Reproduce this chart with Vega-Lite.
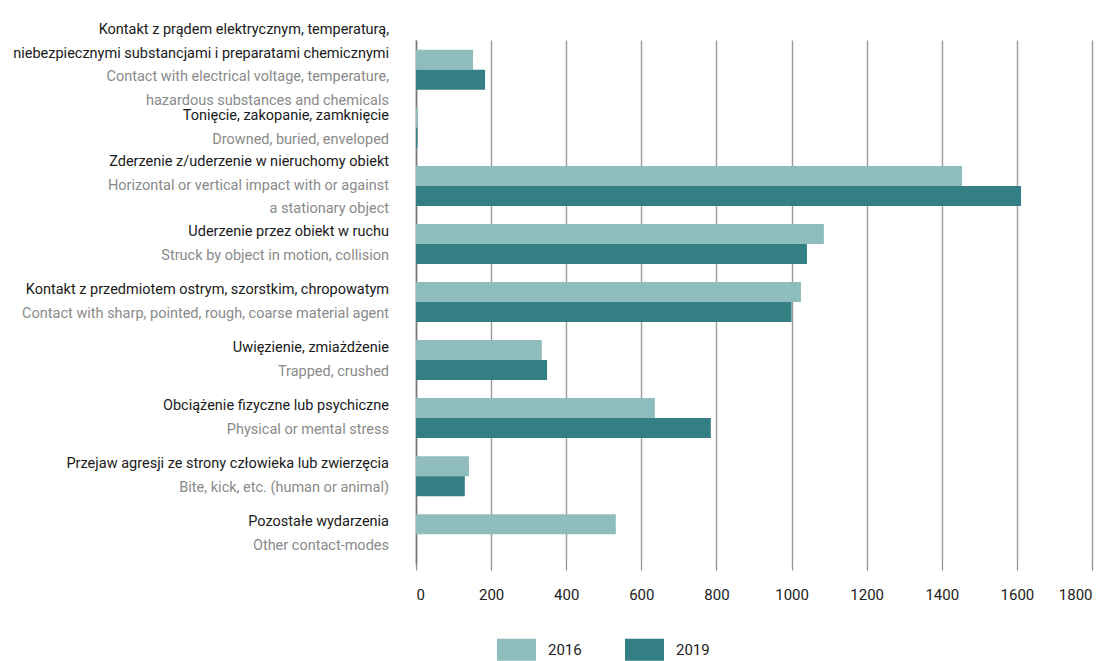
{
  "$schema": "https://vega.github.io/schema/vega-lite/v6.json",
  "width": 676,
  "height": 524,
  "autosize": {"type": "none"},
  "padding": {"left": 416, "top": 40, "right": 20, "bottom": 97},
  "background": "white",
  "config": {"view": {"stroke": null}, "font": "Roboto"},
  "datasets": {
    "bars": [
      {"cat": "c1", "year": "2016", "value": 152},
      {"cat": "c1", "year": "2019", "value": 184},
      {"cat": "c2", "year": "2016", "value": 5},
      {"cat": "c2", "year": "2019", "value": 4},
      {"cat": "c3", "year": "2016", "value": 1454},
      {"cat": "c3", "year": "2019", "value": 1611},
      {"cat": "c4", "year": "2016", "value": 1086},
      {"cat": "c4", "year": "2019", "value": 1041},
      {"cat": "c5", "year": "2016", "value": 1025},
      {"cat": "c5", "year": "2019", "value": 1000},
      {"cat": "c6", "year": "2016", "value": 335},
      {"cat": "c6", "year": "2019", "value": 349},
      {"cat": "c7", "year": "2016", "value": 636},
      {"cat": "c7", "year": "2019", "value": 785},
      {"cat": "c8", "year": "2016", "value": 141},
      {"cat": "c8", "year": "2019", "value": 130},
      {"cat": "c9", "year": "2016", "value": 532}
    ],
    "labels": [
      {"cat": "c1", "pl": ["Kontakt z prądem elektrycznym, temperaturą,", "niebezpiecznymi substancjami i preparatami chemicznymi"], "en": ["Contact with electrical voltage, temperature,", "hazardous substances and chemicals"]},
      {"cat": "c2", "pl": "Tonięcie, zakopanie, zamknięcie", "en": "Drowned, buried, enveloped"},
      {"cat": "c3", "pl": "Zderzenie z/uderzenie w nieruchomy obiekt", "en": ["Horizontal or vertical impact with or against", "a stationary object"]},
      {"cat": "c4", "pl": "Uderzenie przez obiekt w ruchu", "en": "Struck by object in motion, collision"},
      {"cat": "c5", "pl": "Kontakt z przedmiotem ostrym, szorstkim, chropowatym", "en": "Contact with sharp, pointed, rough, coarse material agent"},
      {"cat": "c6", "pl": "Uwięzienie, zmiażdżenie", "en": "Trapped, crushed"},
      {"cat": "c7", "pl": "Obciążenie fizyczne lub psychiczne", "en": "Physical or mental stress"},
      {"cat": "c8", "pl": "Przejaw agresji ze strony człowieka lub zwierzęcia", "en": "Bite, kick, etc. (human or animal)"},
      {"cat": "c9", "pl": "Pozostałe wydarzenia", "en": "Other contact-modes"}
    ]
  },
  "layer": [
    {
      "data": {"name": "bars"},
      "mark": {"type": "bar"},
      "encoding": {
        "y": {
          "field": "cat", "type": "nominal",
          "scale": {"domain": ["c1","c2","c3","c4","c5","c6","c7","c8","c9"], "paddingInner": 0.311, "paddingOuter": 0.169},
          "axis": {"labels": false, "ticks": false, "title": null, "domain": true, "domainColor": "#7a7a7a", "domainWidth": 1.6}
        },
        "yOffset": {"field": "year", "type": "nominal", "scale": {"domain": ["2016", "2019"], "paddingInner": 0, "paddingOuter": 0}},
        "x": {
          "field": "value", "type": "quantitative",
          "scale": {"domain": [0, 1800], "nice": false},
          "axis": {
            "values": [0,200,400,600,800,1000,1200,1400,1600,1800],
            "format": "d",
            "title": null, "domain": false,
            "grid": true, "gridColor": "#9a9a9a", "gridWidth": 1.4,
            "tickColor": "#8a8a8a", "tickSize": 6, "tickWidth": 1.2,
            "labelPadding": 17, "labelFontSize": 15, "labelColor": "#222222", "labelFont": "Roboto"
          }
        },
        "color": {
          "field": "year", "type": "nominal",
          "scale": {"domain": ["2016", "2019"], "range": ["#8fbcbd", "#347f83"]},
          "legend": {
            "orient": "none", "legendX": 81, "legendY": 590,
            "direction": "horizontal", "title": null,
            "symbolType": "M-1,-0.56H1V0.56H-1Z", "symbolSize": 1521, "symbolStrokeWidth": 0,
            "labelOffset": 12, "labelFontSize": 15, "labelColor": "#222222", "labelFont": "Roboto",
            "columnPadding": 43
          }
        }
      }
    },
    {
      "data": {"name": "labels"},
      "transform": [{"filter": {"field": "cat", "oneOf": ["c1"]}}],
      "mark": {"type": "text", "align": "right", "baseline": "middle", "dx": -27, "dy": -39.5, "fontSize": 14.5, "lineHeight": 23.5, "color": "#1a1a1a", "font": "Roboto"},
      "encoding": {"y": {"field": "cat", "type": "nominal"}, "x": {"datum": 0}, "text": {"field": "pl"}}
    },
    {
      "data": {"name": "labels"},
      "transform": [{"filter": {"field": "cat", "oneOf": ["c1"]}}],
      "mark": {"type": "text", "align": "right", "baseline": "middle", "dx": -27, "dy": 7.5, "fontSize": 14.5, "lineHeight": 23.5, "color": "#8a8a8a", "font": "Roboto"},
      "encoding": {"y": {"field": "cat", "type": "nominal"}, "x": {"datum": 0}, "text": {"field": "en"}}
    },
    {
      "data": {"name": "labels"},
      "transform": [{"filter": {"field": "cat", "oneOf": ["c3"]}}],
      "mark": {"type": "text", "align": "right", "baseline": "middle", "dx": -27, "dy": -23.5, "fontSize": 14.5, "lineHeight": 23.5, "color": "#1a1a1a", "font": "Roboto"},
      "encoding": {"y": {"field": "cat", "type": "nominal"}, "x": {"datum": 0}, "text": {"field": "pl"}}
    },
    {
      "data": {"name": "labels"},
      "transform": [{"filter": {"field": "cat", "oneOf": ["c3"]}}],
      "mark": {"type": "text", "align": "right", "baseline": "middle", "dx": -27, "dy": 0, "fontSize": 14.5, "lineHeight": 23.5, "color": "#8a8a8a", "font": "Roboto"},
      "encoding": {"y": {"field": "cat", "type": "nominal"}, "x": {"datum": 0}, "text": {"field": "en"}}
    },
    {
      "data": {"name": "labels"},
      "transform": [{"filter": {"field": "cat", "oneOf": ["c2","c4","c5","c6","c7","c8","c9"]}}],
      "mark": {"type": "text", "align": "right", "baseline": "middle", "dx": -27, "dy": -11.75, "fontSize": 14.5, "lineHeight": 23.5, "color": "#1a1a1a", "font": "Roboto"},
      "encoding": {"y": {"field": "cat", "type": "nominal"}, "x": {"datum": 0}, "text": {"field": "pl"}}
    },
    {
      "data": {"name": "labels"},
      "transform": [{"filter": {"field": "cat", "oneOf": ["c2","c4","c5","c6","c7","c8","c9"]}}],
      "mark": {"type": "text", "align": "right", "baseline": "middle", "dx": -27, "dy": 11.75, "fontSize": 14.5, "lineHeight": 23.5, "color": "#8a8a8a", "font": "Roboto"},
      "encoding": {"y": {"field": "cat", "type": "nominal"}, "x": {"datum": 0}, "text": {"field": "en"}}
    }
  ]
}
